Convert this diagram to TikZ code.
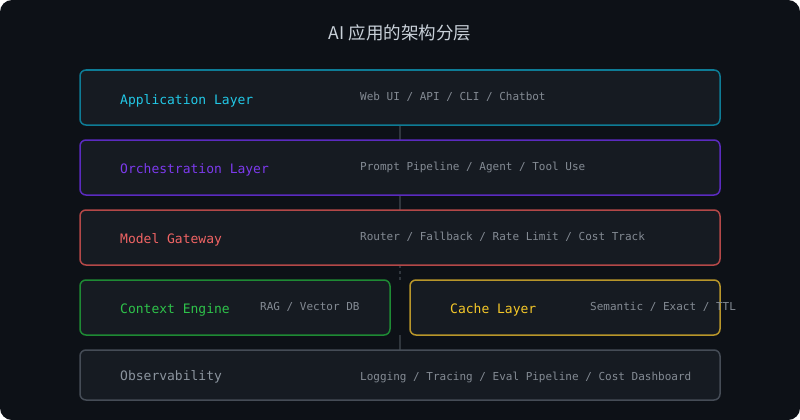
\documentclass[tikz,border=0pt]{standalone}
\usepackage{fontspec}
\setmainfont{Noto Sans}
\setmonofont{DejaVu Sans Mono}
\newfontfamily\cjk{Noto Sans CJK SC}
\definecolor{bgc}{HTML}{0D1117}
\definecolor{boxc}{HTML}{161B22}
\definecolor{linec}{HTML}{30363D}
\definecolor{subc}{HTML}{848B94}
\definecolor{titlec}{HTML}{C9D1D9}
\definecolor{appb}{HTML}{0E7C96}\definecolor{appt}{HTML}{22C8E6}
\definecolor{orcb}{HTML}{5B2BC0}\definecolor{orct}{HTML}{7C3AED}
\definecolor{gwb}{HTML}{B44848}\definecolor{gwt}{HTML}{F06464}
\definecolor{ctxb}{HTML}{1E8A34}\definecolor{ctxt}{HTML}{2EC24A}
\definecolor{cacb}{HTML}{B8962A}\definecolor{cact}{HTML}{F5C829}
\definecolor{obsb}{HTML}{454C56}\definecolor{obst}{HTML}{8B949E}
\tikzset{
  layerbox/.style={draw=#1, fill=boxc, line width=1.5pt, rounded corners=6pt},
  lname/.style={anchor=west, text=#1, font=\ttfamily\fontsize{13}{15}\selectfont, inner sep=0pt},
  ldesc/.style={anchor=west, text=subc, font=\ttfamily\fontsize{11}{13}\selectfont, inner sep=0pt},
  conn/.style={draw=linec, line width=1.5pt},
}
\begin{document}
\begin{tikzpicture}[x=1pt,y=-1pt]
\useasboundingbox (0,0) rectangle (800,420);
\fill[bgc, rounded corners=12pt] (0,0) rectangle (800,420);
\node[text=titlec, font=\cjk\fontsize{17.5}{20}\selectfont] (title) at (400,32.5) {AI 应用的架构分层};

% connector anchor points
\coordinate (c1a) at (400,125); \coordinate (c1b) at (400,140);
\coordinate (c2a) at (400,195); \coordinate (c2b) at (400,210);
\coordinate (c3a) at (400,265); \coordinate (c3b) at (400,280);
\coordinate (c4a) at (400,335); \coordinate (c4b) at (400,350);
\draw[conn] (c1a) -- (c1b);
\draw[conn] (c2a) -- (c2b);
\draw[conn, dash pattern=on 3pt off 3pt] (c3a) -- (c3b);
\draw[conn] (c4a) -- (c4b);

\draw[layerbox=appb] (80,70) rectangle (720,125);
\node[lname=appt] (app) at (120,100.5) {Application Layer};
\node[ldesc] (appd) at (360,97) {Web UI / API / CLI / Chatbot};

\draw[layerbox=orcb] (80,140) rectangle (720,195);
\node[lname=orct] (orc) at (120,169.5) {Orchestration Layer};
\node[ldesc] (orcd) at (360,167) {Prompt Pipeline / Agent / Tool Use};

\draw[layerbox=gwb] (80,210) rectangle (720,265);
\node[lname=gwt] (gw) at (120,239.5) {Model Gateway};
\node[ldesc] (gwd) at (360,237) {Router / Fallback / Rate Limit / Cost Track};

\draw[layerbox=ctxb] (80,280) rectangle (390,335);
\node[lname=ctxt] (ctx) at (120,309.5) {Context Engine};
\node[ldesc] (ctxd) at (260,307) {RAG / Vector DB};

\draw[layerbox=cacb] (410,280) rectangle (720,335);
\node[lname=cact] (cac) at (450,309.5) {Cache Layer};
\node[ldesc] (cacd) at (590,307) {Semantic / Exact / TTL};

\draw[layerbox=obsb] (80,350) rectangle (720,400);
\node[lname=obst] (obs) at (120,377) {Observability};
\node[ldesc] (obsd) at (360,377) {Logging / Tracing / Eval Pipeline / Cost Dashboard};
\end{tikzpicture}
\end{document}
